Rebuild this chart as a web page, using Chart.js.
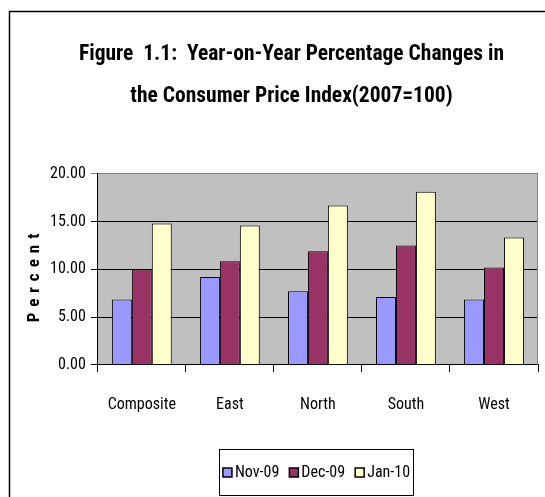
<!DOCTYPE html>
<html>
<head>
<meta charset="utf-8">
<script src="https://cdn.jsdelivr.net/npm/chart.js@4.4.1/dist/chart.umd.min.js"></script>
<style>
  html, body { margin: 0; padding: 0; background: #fff; }
  #wrap { width: 545px; height: 497px; position: relative; }
</style>
</head>
<body>
<div id="wrap"><canvas id="c" width="545" height="497"></canvas></div>
<script>
const categories = ["Composite", "East", "North", "South", "West"];
const seriesNames = ["Nov-09", "Dec-09", "Jan-10"];
const nov09 = [6.85, 9.2, 7.7, 7.1, 6.85];
const dec09 = [10.0, 10.85, 11.9, 12.5, 10.2];
const jan10 = [14.8, 14.6, 16.7, 18.15, 13.35];
const yTicks = [0, 5, 10, 15, 20];
const titleLines = ["Figure  1.1:  Year-on-Year Percentage Changes in", "the Consumer Price Index(2007=100)"];
const yTitle = "Percent";

const colors = ["#9999FF", "#993366", "#FFFFCC"];
const NARROW = "'Roboto Condensed', 'Liberation Sans Narrow', 'Arial Narrow', sans-serif";

const decor = {
  id: 'decor',
  beforeDraw(chart) {
    const {ctx, chartArea: a} = chart;
    ctx.save();
    ctx.fillStyle = '#C0C0C0';
    ctx.fillRect(a.left, a.top, a.right - a.left, a.bottom - a.top);
    ctx.strokeStyle = '#000';
    ctx.lineWidth = 1.5;
    ctx.beginPath();
    ctx.moveTo(9.5, 497);
    ctx.lineTo(9.5, 11.5);
    ctx.lineTo(545, 11.5);
    ctx.stroke();
    ctx.restore();
  },
  afterDraw(chart) {
    const {ctx, chartArea: a} = chart;
    ctx.save();
    ctx.strokeStyle = '#808080';
    ctx.lineWidth = 1;
    ctx.beginPath();
    ctx.moveTo(a.right - 0.5, a.top);
    ctx.lineTo(a.right - 0.5, a.bottom);
    ctx.stroke();
    ctx.translate(35, 278);
    ctx.rotate(-Math.PI / 2);
    ctx.font = "bold 17px " + NARROW;
    ctx.letterSpacing = "6px";
    ctx.fillStyle = '#000';
    ctx.textAlign = 'center';
    ctx.textBaseline = 'middle';
    ctx.fillText(yTitle, 3, 0);
    ctx.restore();

    ctx.save();
    ctx.font = "16px " + NARROW;
    ctx.textBaseline = 'middle';
    const box = 9, gapText = 3, gapItem = 10;
    const items = chart.data.datasets.map(d => ({label: d.label, color: d.backgroundColor, w: ctx.measureText(d.label).width}));
    let total = 0;
    items.forEach((it, i) => { total += box + gapText + it.w + (i < items.length - 1 ? gapItem : 0); });
    const lx = 219.5, ly = 449.5, lw = 194, lh = 46;
    ctx.strokeStyle = '#000';
    ctx.lineWidth = 1;
    ctx.fillStyle = '#fff';
    ctx.fillRect(lx, ly, lw, lh);
    ctx.strokeRect(lx, ly, lw, lh);
    let x = lx + (lw - total) / 2;
    const cy = ly + lh / 2;
    items.forEach(it => {
      ctx.fillStyle = it.color;
      ctx.fillRect(x, cy - box / 2, box, box);
      ctx.lineWidth = 1.5;
      ctx.strokeRect(x, cy - box / 2, box, box);
      ctx.fillStyle = '#000';
      ctx.fillText(it.label, x + box + gapText, cy);
      x += box + gapText + it.w + gapItem;
    });
    ctx.restore();
  }
};

new Chart(document.getElementById('c'), {
  type: 'bar',
  data: {
    labels: categories,
    datasets: [
      {label: seriesNames[0], data: nov09, backgroundColor: colors[0]},
      {label: seriesNames[1], data: dec09, backgroundColor: colors[1]},
      {label: seriesNames[2], data: jan10, backgroundColor: colors[2]}
    ].map(d => Object.assign(d, {borderColor: '#000', borderWidth: 1, categoryPercentage: 0.68, barPercentage: 1}))
  },
  options: {
    responsive: false,
    animation: false,
    layout: {padding: {left: 45, right: 7, top: 34, bottom: 58}},
    plugins: {
      legend: {display: false},
      tooltip: {enabled: false},
      title: {
        display: true,
        text: titleLines,
        color: '#000',
        font: {family: NARROW, size: 21.5, weight: 'bold', lineHeight: 1.93},
        padding: {top: 0, bottom: 57}
      }
    },
    scales: {
      x: {
        grid: {display: true, drawOnChartArea: false, drawTicks: true, tickLength: 7, color: '#000', offset: true},
        border: {display: true, color: '#000', width: 1},
        ticks: {color: '#000', padding: 24, maxRotation: 0, font: {family: NARROW, size: 16}}
      },
      y: {
        min: 0, max: 20,
        afterBuildTicks: (s) => { s.ticks = yTicks.map(v => ({value: v})); },
        grid: {color: (c) => c.tick && c.tick.value === 20 ? '#808080' : '#000', tickLength: 7, drawTicks: true},
        border: {display: true, color: '#000', width: 1},
        ticks: {color: '#000', padding: 5, font: {family: NARROW, size: 16}, callback: (v) => Number(v).toFixed(2)}
      }
    }
  },
  plugins: [decor]
});
</script>
</body>
</html>
